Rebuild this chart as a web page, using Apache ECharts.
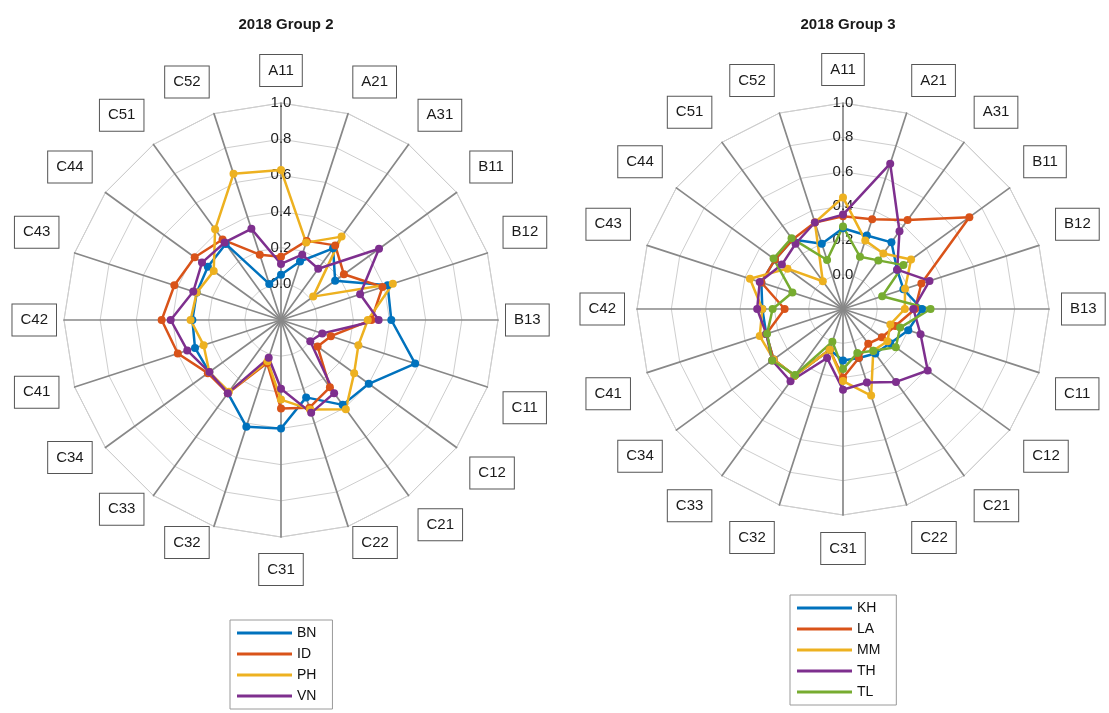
<!DOCTYPE html>
<html><head><meta charset="utf-8">
<script src="https://cdn.jsdelivr.net/npm/echarts/dist/echarts.min.js"></script>
<style>html,body{margin:0;padding:0;background:#fff;} #c{width:1109px;height:713px;}</style>
</head><body><div id="c"></div>
<script>
// ---- data ----
const axes = ['A11','A21','A31','B11','B12','B13','C11','C12','C21','C22','C31','C32','C33','C34','C41','C42','C43','C44','C51','C52'];
const titles = ['2018 Group 2', '2018 Group 3'];
const tickLabels = ['0.0','0.2','0.4','0.6','0.8','1.0'];

const g2Names = ['BN','ID','PH','VN'];
const BN = [0.05,0.14,0.29,0.17,0.42,0.41,0.58,0.40,0.38,0.25,0.40,0.42,0.30,0.29,0.30,0.29,0.29,0.30,0.32,0.01];
const ID = [0.15,0.26,0.31,0.23,0.39,0.30,0.09,0.05,0.26,0.31,0.29,0.05,0.30,0.30,0.40,0.46,0.42,0.39,0.35,0.18];
const PH = [0.63,0.25,0.37,0.02,0.45,0.28,0.25,0.30,0.41,0.32,0.24,0.04,0.29,0.29,0.25,0.30,0.29,0.26,0.42,0.65];
const VN = [0.11,0.18,0.15,0.47,0.26,0.34,0.04,0.00,0.30,0.34,0.18,0.02,0.30,0.29,0.345,0.41,0.31,0.34,0.33,0.33];

const g3Names = ['KH','LA','MM','TH','TL'];
const KH = [0.27,0.25,0.28,0.19,0.17,0.26,0.20,0.14,0.12,0.10,0.10,0.05,0.28,0.30,0.27,0.27,0.30,0.29,0.30,0.20];
const LA = [0.34,0.35,0.44,0.71,0.28,0.22,0.12,0.08,0.05,0.10,0.20,0.05,0.28,0.30,0.27,0.14,0.30,0.29,0.30,0.33];
const MM = [0.45,0.22,0.20,0.29,0.18,0.16,0.09,0.12,0.10,0.33,0.22,0.05,0.28,0.30,0.31,0.27,0.37,0.20,0.00,0.33];
const TH = [0.35,0.69,0.36,0.19,0.33,0.21,0.275,0.41,0.325,0.25,0.27,0.10,0.32,0.31,0.27,0.30,0.31,0.24,0.27,0.33];
const TL = [0.28,0.12,0.15,0.235,0.04,0.31,0.15,0.18,0.10,0.07,0.15,0.00,0.275,0.31,0.265,0.21,0.11,0.30,0.31,0.10];

const colors = ['#0072BD','#D95319','#EDB120','#7E2F8E','#77AC30'];
// ---- build ----
const FONT = '"Liberation Sans", Arial, Helvetica, sans-serif';
const ccw = a => [a[0]].concat(a.slice(1).reverse()); // ECharts radar runs counter-clockwise
const N = axes.length;
// vAlign: function(k) -> 'top' | 'bottom' | 'middle' for axis names
function makeIndicators(gap, sideGap, vAlign) {
  return ccw(axes.map((n, k) => {
    const o = { name: n, min: -0.2, max: 1.0 };
    const horiz = (k === N / 4 || k === 3 * N / 4);
    o.nameGap = horiz ? sideGap : gap;
    o.axisNameGap = o.nameGap;
    if (k !== 0 && k !== N / 2 && !horiz) {
      o.nameTextStyle = { verticalAlign: vAlign(k) };
    }
    if (k === 0) {
      o.axisLabel = {
        show: true, margin: 0, align: 'center', verticalAlign: 'middle',
        color: '#222', fontSize: 15, fontFamily: FONT,
        formatter: v => { const i = Math.round(v / 0.2); return i >= 0 && i < tickLabels.length ? tickLabels[i] : ''; }
      };
    }
    return o;
  }));
}
const cornerAlign = k => (k > N / 4 && k < 3 * N / 4) ? 'top' : 'bottom';
const leftAlign = k => (k > N / 4 && k < 3 * N / 4) ? (k <= 8 ? 'top' : 'middle') : 'bottom';
function radarCfg(center, radius, gap, sideGap, vAlign) {
  return {
    center: center, radius: radius, startAngle: 90, splitNumber: 6, shape: 'polygon',
    indicator: makeIndicators(gap, sideGap, vAlign), nameGap: gap, axisNameGap: gap,
    axisName: { color: '#1a1a1a', fontSize: 15, fontFamily: FONT, backgroundColor: '#fff',
                borderColor: '#555', borderWidth: 1, padding: [8, 8] },
    axisLine: { lineStyle: { color: '#888888', width: 1.7 } },
    splitLine: { lineStyle: { color: '#cecece', width: 1 } },
    splitArea: { show: false },
    axisTick: { show: false },
    axisLabel: { show: false }
  };
}
function seriesFor(idx, names, vals) {
  return {
    type: 'radar', radarIndex: idx, symbol: 'circle', symbolSize: 8, z: 3,
    data: names.map((n, i) => ({
      name: n, value: ccw(vals[i]),
      lineStyle: { color: colors[i], width: 2.5 },
      itemStyle: { color: colors[i] }
    }))
  };
}
function legendCfg(names, left, top) {
  return {
    data: names, orient: 'vertical', left: left, top: top,
    icon: 'rect', itemWidth: 55, itemHeight: 3, itemGap: 7,
    padding: [6, 16, 6, 7], borderColor: '#9a9a9a', borderWidth: 1, backgroundColor: '#fff',
    textStyle: { color: '#111', fontSize: 14, fontFamily: FONT },
    selectedMode: false
  };
}
const chart = echarts.init(document.getElementById('c'), null, { renderer: 'canvas' });
chart.setOption({
  animation: false,
  backgroundColor: '#fff',
  color: colors,
  title: [
    { text: titles[0], left: 281, top: 12, textAlign: 'center', textStyle: { fontSize: 15, fontWeight: 'bold', color: '#1a1a1a', fontFamily: FONT } },
    { text: titles[1], left: 843, top: 12, textAlign: 'center', textStyle: { fontSize: 15, fontWeight: 'bold', color: '#1a1a1a', fontFamily: FONT } }
  ],
  legend: [ legendCfg(g2Names, 230, 620), legendCfg(g3Names, 790, 595) ],
  radar: [ radarCfg([281, 320], 217, 17, 8, leftAlign), radarCfg([843, 309], 206, 18, 13, cornerAlign) ],
  series: [
    seriesFor(0, g2Names, [BN, ID, PH, VN]),
    seriesFor(1, g3Names, [KH, LA, MM, TH, TL])
  ]
});
</script>
</body></html>
